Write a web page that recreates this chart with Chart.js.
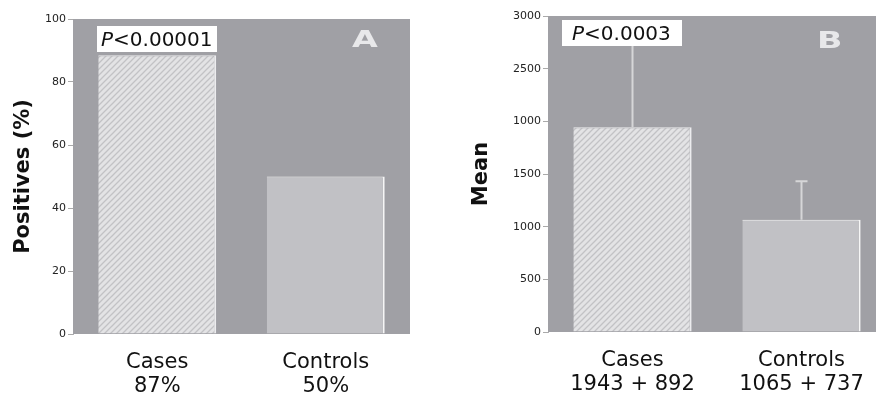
<!DOCTYPE html>
<html>
<head>
<meta charset="utf-8">
<script src="https://cdn.jsdelivr.net/npm/chart.js@4"></script>
<style>
body { margin: 0; background: #fff; overflow: hidden; }
#wrap { position: relative; width: 876px; height: 393px; overflow: hidden; }
#chartA { position: absolute; left: 0; top: 0; }
#chartB { position: absolute; left: 440px; top: 0; }
</style>
</head>
<body>
<div id="wrap">
  <canvas id="chartA" width="440" height="393"></canvas>
  <canvas id="chartB" width="446" height="393"></canvas>
</div>
<script>
const groups = ['Cases', 'Controls'];

// panel A
const positiveLabels = ['87%', '50%'];
const positiveValues = [88.5, 50];

// panel B (the 2000 tick is printed as "1000" in the original)
const meanLabels = ['1943 + 892', '1065 + 737'];
const meanValues = [1943, 1065];
const meanErrors = [892, 365];
const meanTickLabels = ['0', '500', '1000', '1500', '1000', '2500', '3000'];

const FONT = "'DejaVu Sans', sans-serif";

function hatch(ctx) {
    const c = document.createElement('canvas');
    c.width = 6; c.height = 6;
    const g = c.getContext('2d');
    g.fillStyle = '#e3e3e5';
    g.fillRect(0, 0, 6, 6);
    g.strokeStyle = '#c2c2c5';
    g.lineWidth = 1.3;
    g.beginPath();
    g.moveTo(0, 6); g.lineTo(6, 0);
    g.moveTo(-3, 3); g.lineTo(3, -3);
    g.moveTo(3, 9); g.lineTo(9, 3);
    g.stroke();
    return ctx.createPattern(c, 'repeat');
}

const panelPlugin = {
    id: 'panel',
    beforeDatasetsDraw(chart, args, opts) {
        const { ctx, chartArea: a } = chart;
        ctx.save();
        ctx.fillStyle = '#a0a0a5';
        ctx.fillRect(a.left, a.top, a.right - a.left, a.bottom - a.top);
        ctx.restore();
    },
    afterDatasetsDraw(chart, args, opts) {
        const { ctx, chartArea: a } = chart;
        const y = chart.scales.y;
        ctx.save();
        // error bars
        if (opts.errors) {
            const meta = chart.getDatasetMeta(0);
            ctx.strokeStyle = '#d6d6d8';
            ctx.lineWidth = 2;
            meta.data.forEach((bar, i) => {
                const top = y.getPixelForValue(chart.data.datasets[0].data[i] + opts.errors[i]);
                ctx.beginPath();
                ctx.moveTo(bar.x, bar.y);
                ctx.lineTo(bar.x, top);
                ctx.moveTo(bar.x - 6, top);
                ctx.lineTo(bar.x + 6, top);
                ctx.stroke();
            });
        }
        // p value box
        const bx = a.left + opts.boxX, by = a.top + opts.boxY;
        ctx.fillStyle = '#fff';
        ctx.fillRect(bx, by, opts.boxW, 26);
        ctx.fillStyle = '#111';
        ctx.textBaseline = 'alphabetic';
        ctx.font = 'italic 20px ' + FONT;
        const tx = bx + opts.textX;
        ctx.fillText('P', tx, by + 20);
        const pw = ctx.measureText('P').width;
        ctx.font = '20px ' + FONT;
        ctx.fillText('<' + opts.p, tx + pw, by + 20);
        // panel letter
        ctx.translate(a.left + opts.letterX, a.top + opts.letterY);
        ctx.scale(1.45, 1);
        ctx.font = 'bold 23px ' + FONT;
        ctx.fillStyle = '#e8e8ea';
        ctx.fillText(opts.letter, 0, 0);
        ctx.restore();
    }
};

function makeChart(id, cfg) {
    const el = document.getElementById(id);
    const pattern = hatch(el.getContext('2d'));
    return new Chart(el, {
        type: 'bar',
        data: {
            labels: cfg.labels,
            datasets: [{
                data: cfg.values,
                backgroundColor: [pattern, '#c1c1c5'],
                borderColor: ['#ececee', '#f6f6f6'],
                borderWidth: { right: 2, top: 1 },
                borderSkipped: false,
                barPercentage: 0.7,
                categoryPercentage: 1
            }]
        },
        options: {
            responsive: false,
            animation: false,
            layout: { padding: cfg.padding },
            scales: {
                x: {
                    grid: { display: false },
                    border: { display: false },
                    ticks: { color: '#111', font: { family: FONT, size: 21, lineHeight: 1.17 }, padding: 8 },
                    afterFit(s) { s.height = cfg.xHeight; }
                },
                y: {
                    min: 0,
                    max: cfg.max,
                    ticks: {
                        stepSize: cfg.step,
                        color: '#222',
                        font: { family: FONT, size: 11 },
                        padding: 2,
                        callback: cfg.tickCb
                    },
                    grid: { drawOnChartArea: false, tickLength: 5, color: '#aaa' },
                    border: { color: '#b0b0b4' },
                    title: {
                        display: true,
                        text: cfg.title,
                        color: '#111',
                        font: { family: FONT, size: 21, weight: 'bold' },
                        padding: { top: cfg.titlePad, bottom: 0 }
                    },
                    afterFit(s) { s.width = cfg.yWidth; }
                }
            },
            plugins: {
                legend: { display: false },
                tooltip: { enabled: false },
                panel: cfg.panel
            }
        },
        plugins: [panelPlugin]
    });
}

makeChart('chartA', {
    labels: groups.map((g, i) => [g, positiveLabels[i]]),
    values: positiveValues,
    max: 100,
    step: 20,
    title: 'Positives (%)',
    titlePad: 11,
    yWidth: 73,
    xHeight: 59,
    padding: { top: 19, right: 30, left: 0, bottom: 0 },
    panel: { p: '0.00001', letter: 'A', boxX: 24, boxY: 7, boxW: 120, textX: 4, letterX: 279, letterY: 28 }
});

makeChart('chartB', {
    labels: groups.map((g, i) => [g, meanLabels[i]]),
    values: meanValues,
    max: 3000,
    step: 500,
    tickCb: (v, i) => meanTickLabels[i],
    title: 'Mean',
    titlePad: 29,
    yWidth: 108,
    xHeight: 61,
    padding: { top: 16, right: 0, left: 0, bottom: 0 },
    panel: { p: '0.0003', letter: 'B', boxX: 14, boxY: 4, boxW: 120, textX: 10, letterX: 269, letterY: 32, errors: meanErrors }
});
</script>
</body>
</html>
